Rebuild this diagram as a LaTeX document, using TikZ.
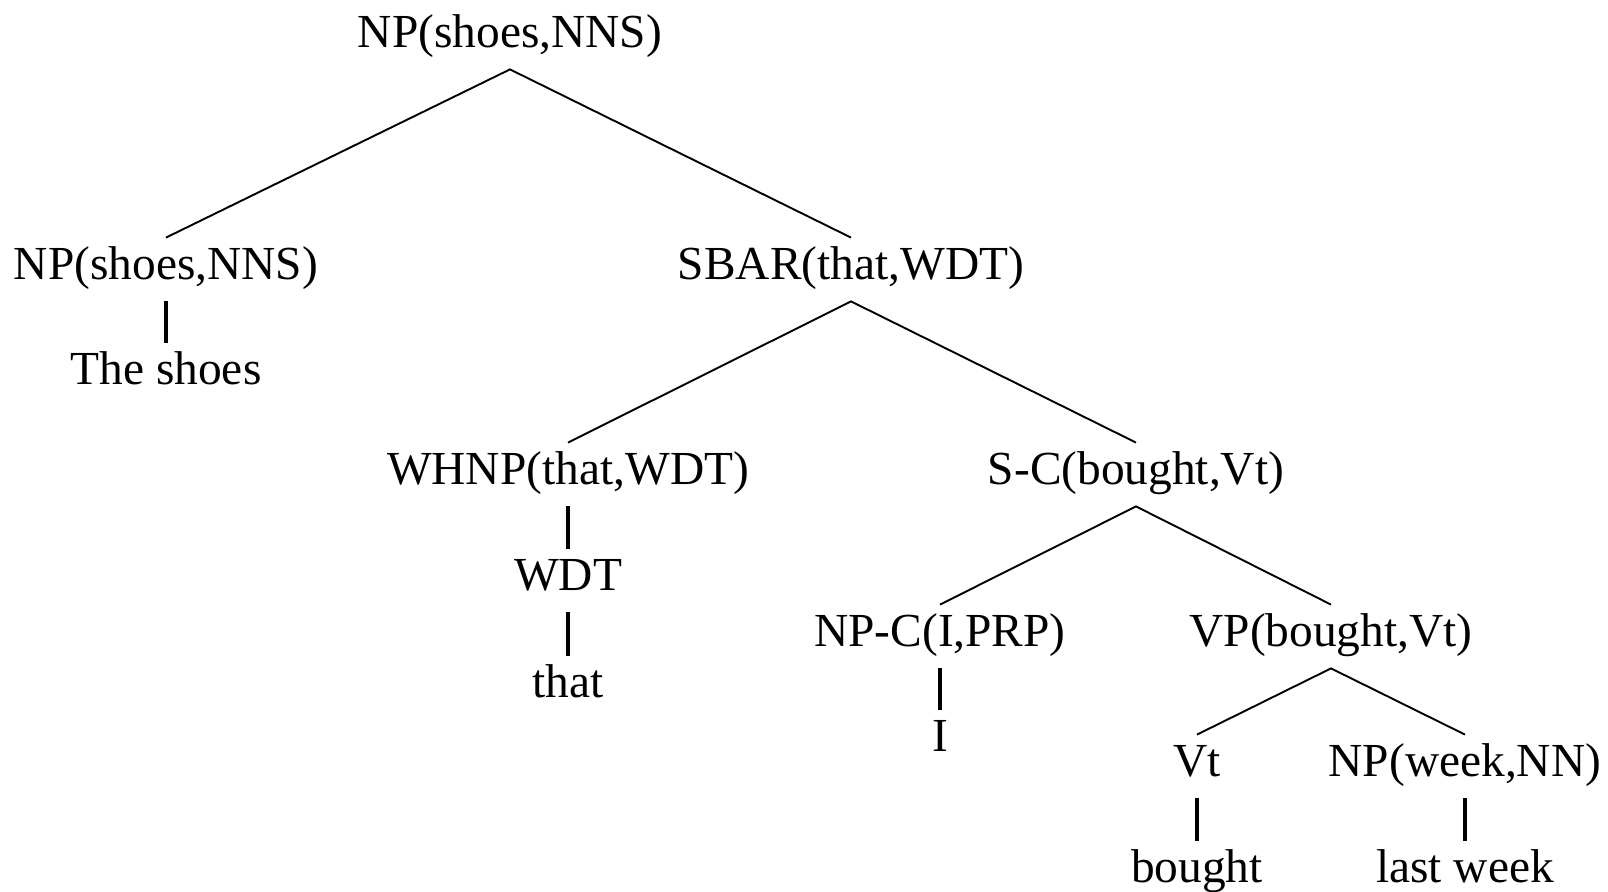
\documentclass[tikz,border=0pt]{standalone}
\usepackage{fontspec}
\setmainfont{Liberation Serif}
\begin{document}
\begin{tikzpicture}[x=0.5pt,y=-0.5pt,
  lbl/.style={anchor=base,inner sep=0pt,text height=21pt,text depth=10.5pt,
    font=\fontsize{23.7pt}{28pt}\selectfont},
  branch/.style={line width=0.95pt},
  unary/.style={line width=1.6pt}]
\useasboundingbox (0,0) rectangle (1608,892);

% labels, placed by baseline
\node[lbl] (top)   at (510,48)  {NP(shoes,NNS)};
\node[lbl] (np1)   at (166,280) {NP(shoes,NNS)};
\node[lbl] (sbar)  at (851,280) {SBAR(that,WDT)};
\node[lbl] (shoes) at (166,385) {The shoes};
\node[lbl] (whnp)  at (568,485) {WHNP(that,WDT)};
\node[lbl] (sc)    at (1136,485) {S-C(bought,Vt)};
\node[lbl] (wdt)   at (568,591) {WDT};
\node[lbl] (that)  at (568,698) {that};
\node[lbl] (npc)   at (940,647) {NP-C(I,PRP)};
\node[lbl] (vp)    at (1331,647) {VP(bought,Vt)};
\node[lbl] (iw)    at (940,752) {I};
\node[lbl] (vt)    at (1197,777) {Vt};
\node[lbl] (npw)   at (1465,777) {NP(week,NN)};
\node[lbl] (bought) at (1197,883) {bought};
\node[lbl] (lastw) at (1465,883) {last week};

% branching edges
\draw[branch] (np1.north) -- (top.south) -- (sbar.north);
\draw[branch] (whnp.north) -- (sbar.south) -- (sc.north);
\draw[branch] (npc.north) -- (sc.south) -- (vp.north);
\draw[branch] (vt.north) -- (vp.south) -- (npw.north);

% unary edges
\draw[unary] (np1.south) -- (shoes.north);
\draw[unary] (whnp.south) -- (wdt.north);
\draw[unary] (wdt.south) -- (that.north);
\draw[unary] (npc.south) -- (iw.north);
\draw[unary] (vt.south) -- (bought.north);
\draw[unary] (npw.south) -- (lastw.north);
\end{tikzpicture}
\end{document}
